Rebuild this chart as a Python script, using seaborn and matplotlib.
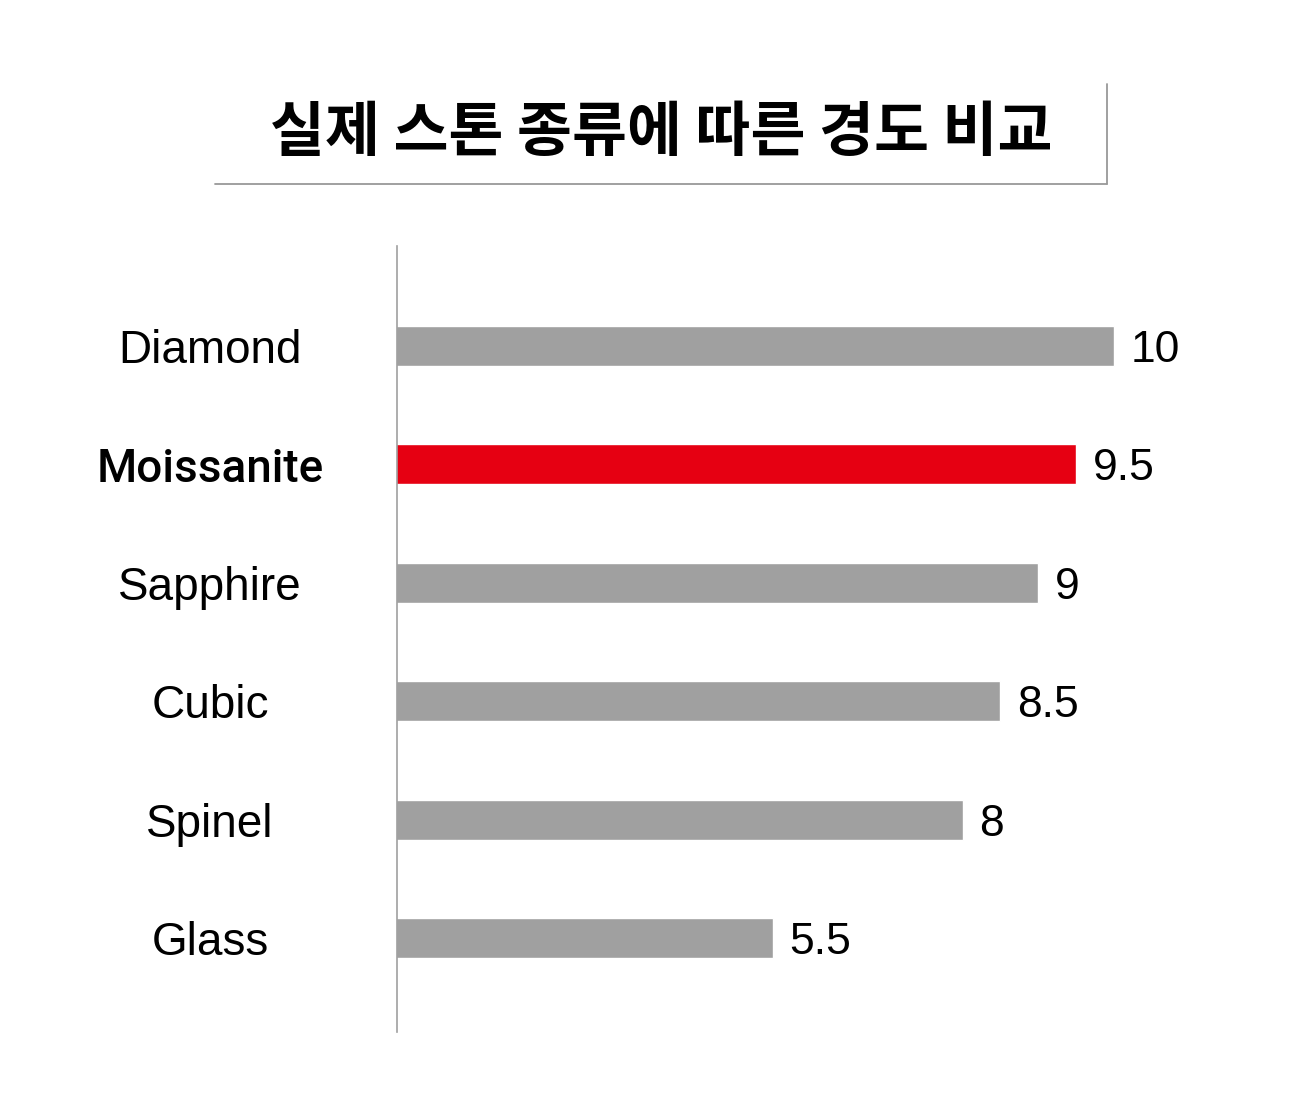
import matplotlib
matplotlib.use("Agg")
import matplotlib.pyplot as plt
import seaborn as sns
import pandas as pd
from matplotlib.lines import Line2D

stones = ["Diamond", "Moissanite", "Sapphire", "Cubic", "Spinel", "Glass"]
hardness = [10, 9.5, 9, 8.5, 8, 5.5]
value_labels = ["10", "9.5", "9", "8.5", "8", "5.5"]
highlight = "Moissanite"
title = "실제 스톤 종류에 따른 경도 비교"

GRAY = "#a0a0a0"
RED = "#e60012"

sns.set_theme(style="white")
plt.rcParams["font.family"] = ["Liberation Sans", "DejaVu Sans"]

df = pd.DataFrame({"stone": stones, "hardness": hardness})
palette = {s: (RED if s == highlight else GRAY) for s in stones}

W, H = 1300, 1100
fig = plt.figure(figsize=(13, 11), dpi=100)
ax_left, ax_right = 397, 1300
ax_top, ax_bottom = 246, 1032
ax = fig.add_axes([ax_left / W, 1 - ax_bottom / H,
                   (ax_right - ax_left) / W, (ax_bottom - ax_top) / H])

sns.barplot(data=df, x="hardness", y="stone", hue="stone", palette=palette,
            legend=False, orient="h", width=0.338, saturation=1, ax=ax)

ax.set_xlim(0.545, 0.545 + (ax_right - ax_left) / 75.86)
ax.set_ylim(5.794, -0.845)

for side in ["top", "right", "bottom"]:
    ax.spines[side].set_visible(False)
ax.spines["left"].set_color(GRAY)
ax.spines["left"].set_linewidth(1.2)
ax.set_xticks([])
ax.set_xlabel("")
ax.set_ylabel("")

ax.tick_params(axis="y", length=0, pad=134.6)
ax.set_yticks(range(len(stones)))
ax.set_yticklabels(stones, fontsize=33, color="#000000")
for lbl in ax.get_yticklabels():
    lbl.set_horizontalalignment("center")
    if lbl.get_text() == highlight:
        lbl.set_family(["Roboto", "Liberation Sans"])
        lbl.set_fontweight("medium")
        lbl.set_fontsize(33)

for container, name in zip(ax.containers, stones):
    i = stones.index(name)
    anns = ax.bar_label(container, labels=[value_labels[i]], padding=12,
                        fontsize=32, color="#000000")
    for a in anns:
        a.set_verticalalignment("center_baseline")

fig.text(661 / W, 1 - 134 / H, title, ha="center", va="center",
         fontsize=43, fontweight="bold", color="#000000",
         family=["Noto Sans CJK KR", "DejaVu Sans"])

fig.add_artist(Line2D([215 / W, 1107 / W], [1 - 184 / H, 1 - 184 / H],
                      color="#999999", lw=1.3, transform=fig.transFigure))
fig.add_artist(Line2D([1107 / W, 1107 / W], [1 - 84 / H, 1 - 184 / H],
                      color="#999999", lw=1.3, transform=fig.transFigure))

fig.savefig("out.png", dpi=100, facecolor="white")
